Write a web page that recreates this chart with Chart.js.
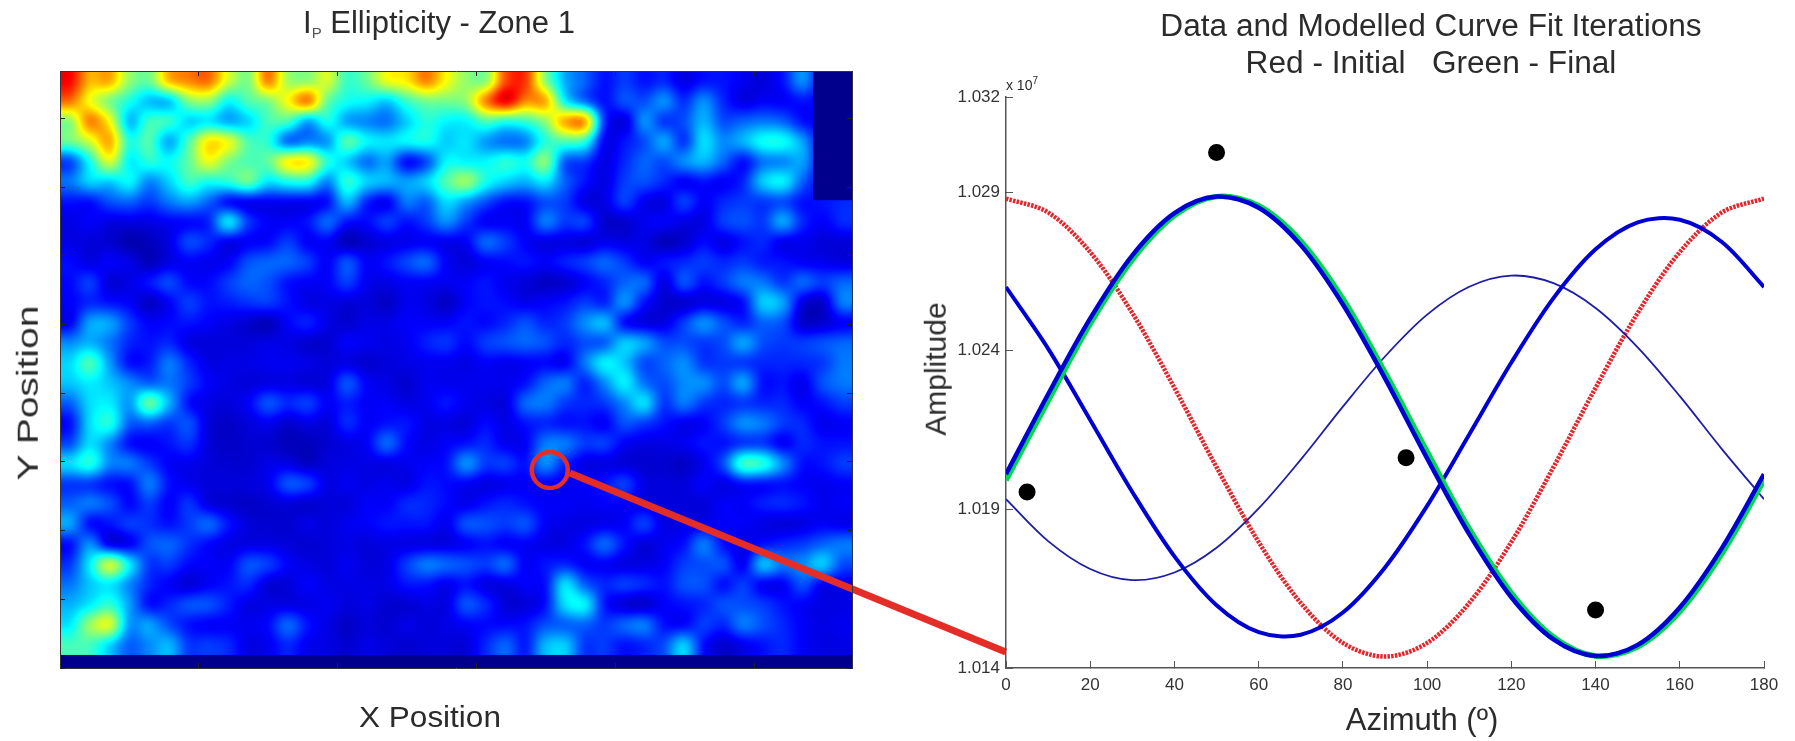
<!DOCTYPE html>
<html>
<head>
<meta charset="utf-8">
<title>Ellipticity map and curve fit</title>
<script src="https://cdn.jsdelivr.net/npm/chart.js@4/dist/chart.umd.min.js"></script>
<style>
html, body { margin: 0; padding: 0; background: #fff; }
body { width: 1795px; height: 741px; position: relative; overflow: hidden; font-family: "Liberation Sans", Arial, sans-serif; color: #2b2b2b; }
canvas { position: absolute; top: 0; }
#map-chart { left: 0; }
#fit-chart { left: 930px; }
.label { position: absolute; white-space: nowrap; transform: translate(-50%, -50%); line-height: 1.15; text-align: center; }
.label sub { font-size: 15px; vertical-align: -5px; line-height: 0; color: #555; }
</style>
</head>
<body>
<canvas id="map-chart" width="1012" height="741"></canvas>
<canvas id="fit-chart" width="865" height="741"></canvas>
<div class="label" style="left:439px;top:23px;font-size:31px">I<sub>P</sub> Ellipticity - Zone 1</div>
<div class="label" style="left:430px;top:717px;font-size:30px;transform:translate(-50%,-50%) scaleX(1.05)">X Position</div>
<div class="label" style="left:28px;top:393px;font-size:30px;transform:translate(-50%,-50%) rotate(-90deg) scaleX(1.3)">Y Position</div>
<div class="label" style="left:1431px;top:44px;font-size:31px;line-height:37px;transform:translate(-50%,-50%) scaleX(1.02)">Data and Modelled Curve Fit Iterations<br>Red - Initial&nbsp;&nbsp; Green - Final</div>
<div class="label" style="left:936px;top:369px;font-size:30px;transform:translate(-50%,-50%) rotate(-90deg)">Amplitude</div>
<div class="label" style="left:1422px;top:720px;font-size:31px">Azimuth (º)</div>
<div class="label" style="left:1022px;top:84px;font-size:14px">x 10<sup style="font-size:10px">7</sup></div>
<script>
// ellipticity map, rows run top to bottom, 0 = navy, 12 = blue, 37 = cyan, 62 = yellow, 87 = red
const ellipticityRows = [
  [87,70,70,52,48,68,74,76,58,50,74,54,52,58,43,48,60,64,74,62,52,52,80,82,52,30,22,14,18,14,16,10,14,14,11,9,14,26,12,12],
  [76,62,50,40,32,33,50,52,38,45,50,62,74,48,39,37,33,43,49,49,52,74,88,74,70,38,24,14,20,20,26,17,26,16,10,12,12,14,12,12],
  [52,74,62,32,43,42,34,36,30,34,44,44,30,39,29,26,24,33,41,37,37,45,41,43,52,70,70,18,10,26,18,20,30,20,22,24,22,14,12,12],
  [48,58,70,41,45,30,45,64,60,45,41,24,26,28,45,37,35,37,39,33,35,28,24,26,41,45,41,12,14,20,28,18,34,26,30,38,38,28,12,12],
  [20,39,58,37,41,38,47,60,50,45,47,62,62,41,33,24,28,14,20,37,37,37,41,39,50,22,18,10,16,22,20,26,30,22,14,24,26,28,12,12],
  [24,33,33,37,26,33,43,39,41,47,35,39,39,26,41,33,30,28,33,45,52,39,33,30,35,22,14,10,18,20,16,12,14,12,16,32,36,22,12,12],
  [14,14,20,22,18,24,28,22,14,12,12,12,12,14,30,16,12,24,22,34,28,20,14,14,20,18,10,10,18,11,10,18,12,16,18,18,20,14,14,16],
  [10,12,10,10,10,12,13,16,34,18,12,12,14,22,14,13,18,14,18,26,18,12,12,12,24,18,18,8,8,11,12,10,10,18,20,18,28,16,12,16],
  [10,9,8,5,6,10,19,16,11,12,13,18,12,12,6,8,10,11,12,11,12,22,18,12,10,10,9,11,10,10,6,8,13,10,14,16,11,11,9,9],
  [13,10,12,10,6,10,12,11,12,20,22,22,18,12,20,12,14,19,22,12,9,12,13,14,12,15,18,22,18,12,14,16,18,16,18,15,14,12,11,10],
  [13,18,9,10,14,19,13,13,18,22,20,14,12,12,18,11,10,12,12,11,12,14,11,9,7,8,12,16,22,22,10,20,14,18,24,24,18,22,18,22],
  [12,16,14,12,7,12,18,14,15,17,18,14,10,10,9,9,7,11,10,7,12,14,13,11,12,14,18,16,26,14,8,8,10,10,14,32,28,10,8,24],
  [12,28,28,18,12,13,14,12,10,8,6,12,15,10,8,10,10,12,12,12,14,13,16,20,16,18,26,30,14,10,10,18,26,20,16,22,20,8,8,12],
  [26,30,24,16,14,16,10,9,9,9,10,10,8,8,12,11,10,11,15,17,13,18,20,22,20,16,20,22,32,28,20,20,18,20,28,20,18,18,20,22],
  [34,44,28,14,15,24,16,10,10,10,11,11,10,9,10,8,9,10,11,11,10,12,11,12,13,12,24,36,32,20,22,26,18,18,18,16,16,16,18,24],
  [32,36,32,26,22,24,18,12,10,9,10,10,9,10,20,12,10,8,11,11,11,11,11,14,22,24,16,26,36,24,20,26,26,20,28,14,14,11,20,24],
  [22,34,36,28,46,30,14,10,9,12,20,16,18,12,15,12,12,10,11,14,11,10,10,22,24,18,16,18,26,34,18,24,18,16,18,16,16,12,14,18],
  [14,34,40,22,22,18,20,9,7,9,11,8,10,9,16,12,14,14,10,10,9,13,10,14,16,14,14,12,20,18,14,11,12,18,26,24,18,16,11,12],
  [20,34,26,14,12,14,17,9,7,8,8,6,6,8,10,12,22,13,10,12,14,16,11,12,24,24,18,18,12,10,10,11,14,14,18,18,12,16,14,14],
  [34,40,26,24,18,12,11,9,8,8,10,10,7,9,10,10,10,11,12,14,26,18,18,14,26,16,10,10,9,8,8,7,11,20,42,40,26,14,14,18],
  [18,18,14,14,24,14,11,9,9,9,11,20,18,10,11,10,11,10,14,13,12,10,11,12,12,11,12,14,18,10,9,9,12,10,14,14,14,12,11,12],
  [22,24,20,13,18,12,17,10,8,7,8,9,8,9,9,12,12,16,16,13,11,14,16,14,12,12,11,12,12,10,9,9,9,12,12,15,16,14,11,12],
  [28,14,14,18,17,14,18,22,14,9,8,8,10,9,11,12,14,14,14,11,20,20,18,20,12,10,10,11,12,18,10,10,11,12,12,10,9,10,12,11],
  [14,26,12,12,20,22,17,13,10,10,10,9,8,9,10,9,10,10,10,10,12,14,12,12,10,10,14,22,14,9,11,14,24,14,10,14,16,18,22,24],
  [18,36,56,36,18,18,13,12,12,20,18,12,10,9,11,9,10,18,24,22,20,18,22,12,14,16,12,12,10,10,12,18,20,20,12,30,24,26,32,20],
  [24,32,36,26,16,12,9,12,14,16,9,9,12,10,10,10,10,14,14,11,14,10,10,12,14,34,22,16,18,16,14,20,20,14,18,12,12,20,12,11],
  [30,36,42,28,14,16,20,20,15,10,10,10,10,11,9,10,8,8,10,10,20,16,9,9,14,34,36,15,9,8,12,14,16,20,20,18,14,12,10,10],
  [36,52,58,28,28,20,14,12,12,11,13,22,14,10,7,9,8,10,9,10,12,13,13,14,20,22,22,18,22,24,14,13,18,16,24,20,16,12,10,11],
  [44,44,34,22,26,30,18,18,16,10,11,16,11,10,8,10,9,8,9,9,9,16,22,15,30,32,18,18,14,16,20,32,14,8,11,14,16,12,10,10]
];
// axis units of the map: one x tick is 139px, one y tick is 68.7px
const mapXMax = 5.7;
const mapYMax = 8.69;
const mapRowsBottom = 0.19;
const mapXTickStep = 1;
const mapYTickStep = 1;
// blocks with no data
const noDataBoxes = [
  { x0: 0, x1: 5.7, y0: 0, y1: 0.19 },
  { x0: 5.42, x1: 5.7, y0: 6.81, y1: 8.69 }
];
const probeCircle = [{ x: 3.525, y: 2.882 }];
const probeLine = [{ x: 3.669, y: 2.838 }, { x: 6.806, y: 0.233 }];

// curve fit panel
const azimuth = [0,10,20,30,40,50,60,70,80,90,100,110,120,130,140,150,160,170,180];
const initialCurve = [1.0288,1.02836,1.02711,1.02519,1.02283,1.02033,1.01797,1.01605,1.01479,1.01436,1.01479,1.01605,1.01797,1.02033,1.02283,1.02519,1.02711,1.02836,1.0288];
const finalCurve = [1.01992,1.02242,1.02485,1.02687,1.02826,1.02886,1.02857,1.02746,1.02564,1.02332,1.02082,1.01839,1.01637,1.01498,1.01438,1.01467,1.01578,1.0176,1.01992];
const iterationThin = [1.01932,1.018,1.01712,1.01677,1.01701,1.01779,1.01903,1.02057,1.02224,1.02382,1.02514,1.02602,1.02637,1.02613,1.02535,1.02411,1.02257,1.0209,1.01932];
const iterationMid = [1.02601,1.02407,1.02182,1.01955,1.01752,1.01598,1.01513,1.01505,1.01575,1.01717,1.01911,1.02136,1.02363,1.02566,1.0272,1.02805,1.02813,1.02743,1.02601];
const iterationLast = [1.02011,1.02263,1.02502,1.02701,1.02834,1.02886,1.02851,1.02733,1.02546,1.02313,1.02061,1.01822,1.01623,1.0149,1.01438,1.01473,1.01591,1.01778,1.02011];
const dataAzimuth = [5,50,95,140];
const dataAmplitude = [1.01955,1.03025,1.02063,1.01583];
const amplitudeTicks = [1.014,1.019,1.024,1.029,1.032];

function toPoints(xs, ys) {
    return xs.map((x, i) => ({ x: x, y: ys[i] }));
}

function jetColor(v) {
    const stops = [[0,0,0,128],[12.5,0,0,255],[37.5,0,255,255],[62.5,255,255,0],[87.5,255,0,0],[100,128,0,0]];
    v = Math.max(0, Math.min(100, v));
    for (let i = 1; i < stops.length; i++) {
        if (v <= stops[i][0]) {
            const a = stops[i - 1], b = stops[i];
            const t = (v - a[0]) / (b[0] - a[0]);
            return [a[1] + (b[1] - a[1]) * t, a[2] + (b[2] - a[2]) * t, a[3] + (b[3] - a[3]) * t];
        }
    }
    return [128, 0, 0];
}

// smooth shading between the cell centres, same as the source's interpolated map
function catmull(p0, p1, p2, p3, t) {
    return p1 + 0.5 * t * (p2 - p0 + t * (2 * p0 - 5 * p1 + 4 * p2 - p3 + t * (3 * (p1 - p2) + p3 - p0)));
}

function sampleRows(u, v) {
    const rows = ellipticityRows.length, cols = ellipticityRows[0].length;
    const iu = Math.floor(u), iv = Math.floor(v);
    const fu = u - iu, fv = v - iv;
    const col = [];
    for (let j = -1; j <= 2; j++) {
        const row = ellipticityRows[Math.max(0, Math.min(rows - 1, iv + j))];
        col.push(catmull(
            row[Math.max(0, Math.min(cols - 1, iu - 1))],
            row[Math.max(0, Math.min(cols - 1, iu))],
            row[Math.max(0, Math.min(cols - 1, iu + 1))],
            row[Math.max(0, Math.min(cols - 1, iu + 2))], fu));
    }
    return catmull(col[0], col[1], col[2], col[3], fv);
}

const mapCells = [];
const cellW = mapXMax / ellipticityRows[0].length;
const cellH = (mapYMax - mapRowsBottom) / ellipticityRows.length;
ellipticityRows.forEach((row, r) => {
    row.forEach((value, c) => {
        mapCells.push({ x: (c + 0.5) * cellW, y: mapYMax - (r + 0.5) * cellH, v: value });
    });
});

const heatmapPlugin = {
    id: 'heatmap',
    beforeDatasetDraw(chart, args) {
        if (args.index !== 2) return;
        const cols = ellipticityRows[0].length;
        const pts = chart.getDatasetMeta(2).data;
        const x0 = pts[0].x, y0 = pts[0].y;
        const dx = pts[1].x - x0, dy = pts[cols].y - y0;
        const area = chart.chartArea;
        const w = Math.round(area.right - area.left), h = Math.round(area.bottom - area.top);
        const ctx = chart.ctx;
        const img = ctx.createImageData(w, h);
        let k = 0;
        for (let j = 0; j < h; j++) {
            for (let i = 0; i < w; i++) {
                const c = jetColor(sampleRows((area.left + i + 0.5 - x0) / dx, (area.top + j + 0.5 - y0) / dy));
                img.data[k++] = c[0];
                img.data[k++] = c[1];
                img.data[k++] = c[2];
                img.data[k++] = 255;
            }
        }
        ctx.putImageData(img, Math.round(area.left), Math.round(area.top));
        ctx.save();
        ctx.fillStyle = '#00008c';
        noDataBoxes.forEach(b => {
            const sx = chart.scales.x, sy = chart.scales.y;
            ctx.fillRect(sx.getPixelForValue(b.x0), sy.getPixelForValue(b.y1),
                sx.getPixelForValue(b.x1) - sx.getPixelForValue(b.x0),
                sy.getPixelForValue(b.y0) - sy.getPixelForValue(b.y1));
        });
        ctx.restore();
    }
};

function mapAxis(position, max, step) {
    const horizontal = position === 'top' || position === 'bottom';
    return {
        type: 'linear',
        position: position,
        min: 0,
        max: max,
        ticks: { display: false, stepSize: step, includeBounds: false },
        grid: { drawOnChartArea: false, tickLength: -5, tickColor: '#222', z: 1 },
        border: { color: '#333', width: 1, z: 1 },
        afterFit: (s) => { if (horizontal) s.height = 0; else s.width = 0; }
    };
}

new Chart(document.getElementById('map-chart'), {
    type: 'scatter',
    plugins: [heatmapPlugin],
    data: {
        datasets: [
            { data: probeLine, showLine: true, borderColor: '#e52d27', borderWidth: 7, pointRadius: 0, clip: false, borderCapStyle: 'butt' },
            { data: probeCircle, pointStyle: 'circle', pointRadius: 18, borderColor: '#e52d27', borderWidth: 4.5, backgroundColor: 'transparent', clip: false },
            { data: mapCells, pointRadius: 0, clip: false }
        ]
    },
    options: {
        responsive: false,
        animation: false,
        events: [],
        layout: { padding: { left: 60, right: 160, top: 71, bottom: 73 } },
        plugins: { legend: { display: false }, tooltip: { enabled: false }, title: { display: false } },
        scales: {
            x: mapAxis('bottom', mapXMax, mapXTickStep),
            xTop: mapAxis('top', mapXMax, mapXTickStep),
            y: mapAxis('left', mapYMax, mapYTickStep),
            yRight: mapAxis('right', mapYMax, mapYTickStep)
        }
    }
});

new Chart(document.getElementById('fit-chart'), {
    type: 'line',
    data: {
        datasets: [
            { label: 'Data', data: toPoints(dataAzimuth, dataAmplitude), showLine: false, pointRadius: 8.5, pointBackgroundColor: '#000', pointBorderWidth: 0 },
            { label: 'Iteration 3', data: toPoints(azimuth, iterationLast), borderColor: '#0000d2', borderWidth: 4.5, tension: 0.33, pointRadius: 0 },
            { label: 'Final', data: toPoints(azimuth, finalCurve), borderColor: '#00d84e', borderWidth: 5.5, tension: 0.33, pointRadius: 0 },
            { label: 'Iteration 2', data: toPoints(azimuth, iterationMid), borderColor: '#0000d2', borderWidth: 4, tension: 0.33, pointRadius: 0 },
            { label: 'Iteration 1', data: toPoints(azimuth, iterationThin), borderColor: '#1d1da6', borderWidth: 1.8, tension: 0.33, pointRadius: 0 },
            { label: 'Initial', data: toPoints(azimuth, initialCurve), borderColor: '#e2262c', borderWidth: 4.5, borderDash: [2.5, 1.2], tension: 0.33, pointRadius: 0 }
        ]
    },
    options: {
        responsive: false,
        animation: false,
        events: [],
        layout: { padding: { left: 0, right: 31, top: 97, bottom: 0 } },
        plugins: { legend: { display: false }, tooltip: { enabled: false }, title: { display: false } },
        scales: {
            x: {
                type: 'linear',
                min: 0,
                max: 180,
                ticks: { stepSize: 20, padding: 14, maxRotation: 0, color: '#333', font: { family: 'Liberation Sans', size: 17 } },
                grid: { drawOnChartArea: false, tickLength: -7, tickColor: '#555' },
                border: { color: '#555', width: 1.5 },
                afterFit: (s) => { s.height = 73; }
            },
            y: {
                type: 'linear',
                min: 1.014,
                max: 1.032,
                afterBuildTicks: (s) => { s.ticks = amplitudeTicks.map(v => ({ value: v })); },
                ticks: { padding: 13, color: '#333', font: { family: 'Liberation Sans', size: 17 }, callback: (v) => v.toFixed(3) },
                grid: { drawOnChartArea: false, tickLength: -7, tickColor: '#555' },
                border: { color: '#555', width: 1.5 },
                afterFit: (s) => { s.width = 76; }
            }
        }
    }
});
</script>
</body>
</html>
